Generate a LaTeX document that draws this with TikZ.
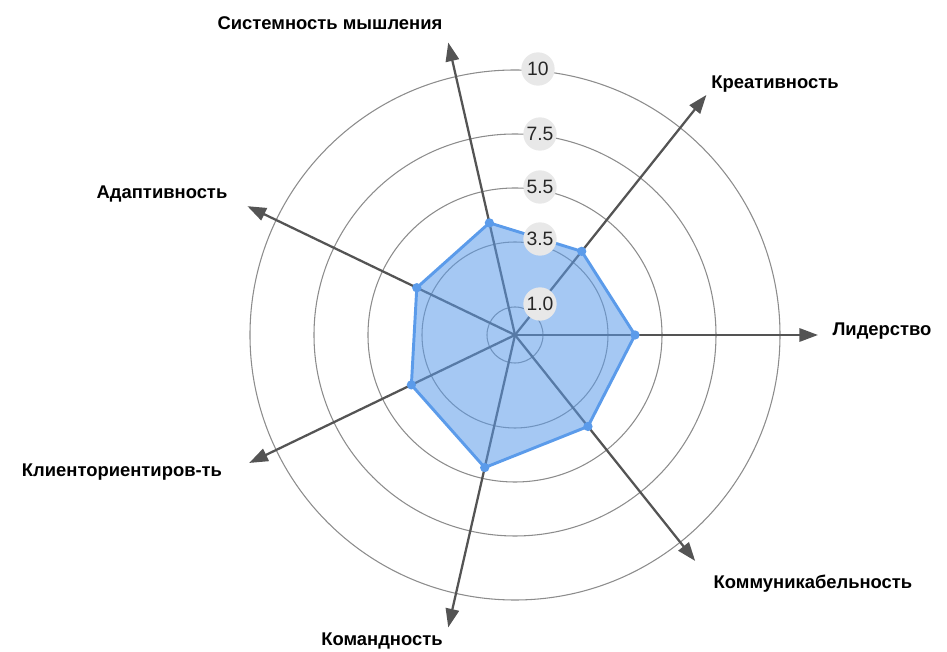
\documentclass[tikz,border=0pt]{standalone}
\usepackage{fontspec}
\setmainfont{Liberation Sans}
\usetikzlibrary{arrows.meta}
\definecolor{chartblue}{HTML}{5B9BEA}
\tikzset{
  ring/.style={draw=black!45,line width=0.8pt},
  axis/.style={draw=black!67,line width=1.7pt,-{Triangle[length=14pt,width=10pt]}},
  area/.style={fill=chartblue,fill opacity=0.55,draw=chartblue,line width=2.2pt,line join=round},
  dot/.style={circle,fill=chartblue,inner sep=0pt,minimum size=7pt},
  bubble/.style={circle,fill=black!9,inner sep=0pt,minimum size=25pt,
    font=\fontsize{14.5}{16}\selectfont,text=black!85},
  lbl/.style={font=\fontsize{13.8}{16}\selectfont\bfseries}
}
\begin{document}
\begin{tikzpicture}[x=0.75pt,y=0.75pt]
\useasboundingbox (-515,-317) rectangle (432,335);
\coordinate (o) at (0,0);
%
\foreach \r in {28,93,147,201,265}
  \draw[ring] (o) circle (\r);
%
\foreach \a/\len [count=\k] in {0/303,51.43/307,102.86/300,154.29/297,205.71/295,257.14/300,308.57/289}
{
  \coordinate (a\k) at (\a:\len);
  \draw[axis] (o) -- (a\k);
}
%
\foreach \a/\r [count=\k] in {0/120,51.43/107,102.86/115,154.29/109,205.71/115,257.14/136,308.57/117}
  \coordinate (p\k) at (\a:\r);
\draw[area] (p1) -- (p2) -- (p3) -- (p4) -- (p5) -- (p6) -- (p7) -- cycle;
\foreach \k in {1,...,7}
  \node[dot] (d\k) at (p\k) {};
%
\node[bubble] (v1) at (25,31) {1.0};
\node[bubble] (v2) at (25,96) {3.5};
\node[bubble] (v3) at (25,148) {5.5};
\node[bubble] (v4) at (25,201) {7.5};
\node[bubble] (v5) at (23,266) {10};
%
\node[lbl] (l1) at (367,4) {Лидерство};
\node[lbl] (l2) at (260,251) {Креативность};
\node[lbl] (l3) at (-185,312) {Системность мышления};
\node[lbl] (l4) at (-353,141) {Адаптивность};
\node[lbl] (l5) at (-393,-137) {Клиенториентиров-ть};
\node[lbl] (l6) at (-133,-306) {Командность};
\node[lbl] (l7) at (298,-249) {Коммуникабельность};
\end{tikzpicture}
\end{document}
